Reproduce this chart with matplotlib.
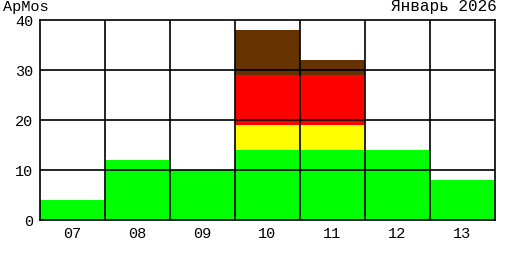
import matplotlib
import numpy as np

matplotlib.use("Agg")
import matplotlib.pyplot as plt

days = ["07", "08", "09", "10", "11", "12", "13"]
green = [4, 12, 10, 14, 14, 14, 8]
yellow = [0, 0, 0, 5, 5, 0, 0]
red = [0, 0, 0, 10, 10, 0, 0]
brown = [0, 0, 0, 9, 3, 0, 0]

plt.rcParams["font.family"] = ["Liberation Mono", "DejaVu Sans Mono"]

fig = plt.figure(figsize=(5.15, 2.6), dpi=100)
ax = fig.add_axes([40 / 515, 40 / 260, 455 / 515, 200 / 260])

x = np.arange(len(days))
bottom = np.zeros(len(days))
for values, color in ((green, "#00ff00"), (yellow, "#ffff00"),
                      (red, "#ff0000"), (brown, "#663300")):
    ax.bar(x, values, width=1.0, bottom=bottom, color=color, linewidth=0, zorder=1)
    bottom += np.array(values)

ax.set_xlim(-0.5, len(days) - 0.5)
ax.set_ylim(0, 40)
ax.set_yticks([0, 10, 20, 30, 40])
ax.set_xticks(x, days)
for yv in (10, 20, 30):
    ax.axhline(yv, color="black", linewidth=1.2, zorder=3)
for xv in x[:-1] + 0.5:
    ax.axvline(xv, color="black", linewidth=1.2, zorder=3)
for spine in ax.spines.values():
    spine.set_linewidth(1.2)
    spine.set_zorder(4)
ax.tick_params(length=0, labelsize=11, pad=5)

fig.text(3 / 515, 1 - 7 / 260, "ApMos", fontsize=11, va="center", ha="left")
fig.text(497 / 515, 1 - 7 / 260, "Январь 2026", fontsize=11.5, va="center", ha="right")

fig.savefig("out.png", dpi=100)
